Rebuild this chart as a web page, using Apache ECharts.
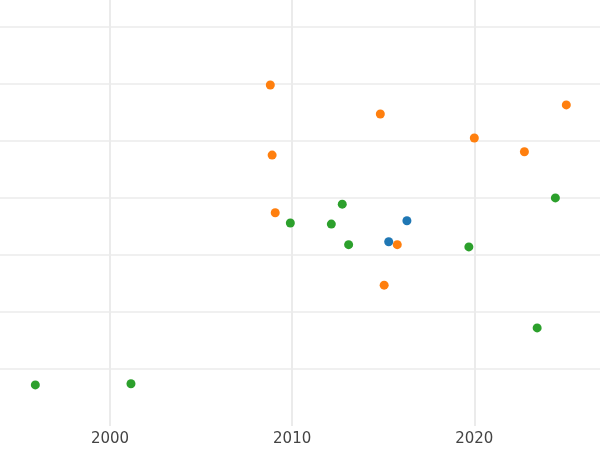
<!DOCTYPE html>
<html><head><meta charset="utf-8">
<script src="https://cdn.jsdelivr.net/npm/echarts@6/dist/echarts.min.js"></script>
<style>body{margin:0}#c{width:600px;height:450px}</style>
</head><body><div id="c"></div>
<script>
var greenX = [1995.9, 2001.15, 2009.9, 2012.15, 2012.75, 2013.1, 2019.7, 2023.45, 2024.45];
var greenY = [0.72, 0.74, 3.56, 3.54, 3.89, 3.18, 3.14, 1.72, 4.0];
var orangeX = [2008.8, 2008.9, 2009.07, 2014.84, 2015.05, 2015.77, 2020.0, 2022.75, 2025.05];
var orangeY = [5.98, 4.75, 3.74, 5.47, 2.47, 3.18, 5.05, 4.81, 5.63];
var blueX = [2015.3, 2016.3];
var blueY = [3.23, 3.6];
var xTicks = [2000, 2010, 2020];
var yTicks = [1, 2, 3, 4, 5, 6, 7];

function pairs(xs, ys){
	var out = [];
	for(var i = 0; i < xs.length; i++){ out.push([xs[i], ys[i]]); }
	return out;
}

var chart = echarts.init(document.getElementById('c'));
var option = {
	animation: false,
	grid: { left: 0, right: 0, top: 0, bottom: 24 },
	xAxis: {
		type: 'value', min: 1993.96, max: 2026.9,
		axisLine: { show: false },
		axisTick: { show: false, customValues: xTicks },
		axisLabel: { customValues: xTicks, color: '#444', fontSize: 15, fontFamily: 'DejaVu Sans', margin: 6,
			formatter: function(v){ return String(v); } },
		splitLine: { lineStyle: { color: '#ebebeb', width: 2 } }
	},
	yAxis: {
		type: 'value', min: 0, max: 7.47,
		axisLine: { show: false },
		axisTick: { show: false, customValues: yTicks },
		axisLabel: { show: false, customValues: yTicks },
		splitLine: { lineStyle: { color: '#ebebeb', width: 1.5 } }
	},
	series: [
		{ type: 'scatter', data: pairs(greenX, greenY), symbolSize: 9, itemStyle: { color: '#2ca02c', opacity: 1 } },
		{ type: 'scatter', data: pairs(orangeX, orangeY), symbolSize: 9, itemStyle: { color: '#ff7f0e', opacity: 1 } },
		{ type: 'scatter', data: pairs(blueX, blueY), symbolSize: 9, itemStyle: { color: '#1f77b4', opacity: 1 } }
	]
};
chart.setOption(option);
</script></body></html>
